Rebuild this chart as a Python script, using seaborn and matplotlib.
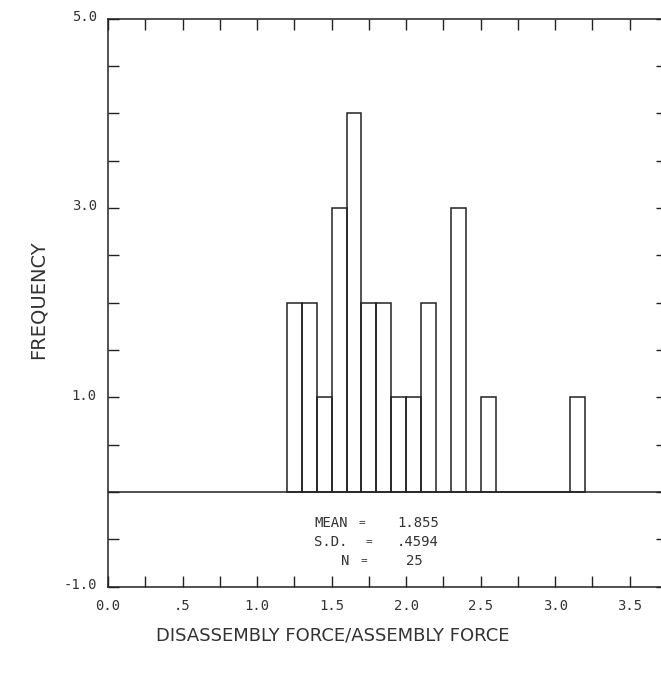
import matplotlib
matplotlib.use("Agg")
import matplotlib.pyplot as plt
import matplotlib.transforms as mtransforms
import numpy as np
import pandas as pd
import seaborn as sns

# ---- data ----
bin_left = [1.2, 1.3, 1.4, 1.5, 1.6, 1.7, 1.8, 1.9, 2.0, 2.1,
            2.2, 2.3, 2.4, 2.5, 2.6, 2.7, 2.8, 2.9, 3.0, 3.1]
counts = [2, 2, 1, 3, 4, 2, 2, 1, 1, 2,
          0, 3, 0, 1, 0, 0, 0, 0, 0, 1]
bin_width = 0.1

x_tick_values = [0.0, 0.5, 1.0, 1.5, 2.0, 2.5, 3.0, 3.5]
x_tick_labels = ["0.0", ".5", "1.0", "1.5", "2.0", "2.5", "3.0", "3.5"]
y_tick_values = [-1.0, 1.0, 3.0, 5.0]
y_tick_labels = ["-1.0", "1.0", "3.0", "5.0"]

stat_names = ["MEAN", "S.D.", "N"]
stat_values = ["1.855", ".4594", "25"]

x_label = "DISASSEMBLY FORCE/ASSEMBLY FORCE"
y_label = "FREQUENCY"

# ---- drawing ----
sns.set_style("white")
plt.rcParams["font.family"] = ["DejaVu Sans Mono", "DejaVu Sans"]

ink = "#222222"
W, H = 661, 679
fig = plt.figure(figsize=(W / 100, H / 100), dpi=100)
# right spine sits just beyond the picture edge (cropped original)
ax = fig.add_axes([108 / W, 1 - 586.7 / H, (667 - 108) / W, (586.7 - 18.5) / H])

edges = list(np.round(np.array(bin_left + [bin_left[-1] + bin_width]), 3))
df = pd.DataFrame({"value": np.array(bin_left) + bin_width / 2,
                   "count": np.array(counts, dtype=float)})
sns.histplot(data=df, x="value", weights="count", bins=edges, fill=False,
             color=ink, linewidth=1.1, ax=ax)

ax.axhline(0, color=ink, linewidth=1.1)

ax.set_xlim(0, 3.75)
ax.set_ylim(-1, 5)

ax.set_xticks(x_tick_values)
ax.set_xticklabels(x_tick_labels)
ax.set_xticks(np.arange(0, 3.76, 0.25), minor=True)
ax.set_yticks(y_tick_values)
ax.set_yticklabels(y_tick_labels)
ax.set_yticks(np.arange(-1, 5.01, 0.5), minor=True)

ax.tick_params(which="both", direction="in", top=True, right=True,
               bottom=True, left=True, length=8, width=1.0, color=ink)
ax.tick_params(axis="both", which="major", labelsize=10, labelcolor="#333333", pad=8)
ax.tick_params(axis="x", which="major", pad=9)

for lab in ax.get_yticklabels():
    lab.set_transform(lab.get_transform() +
                      mtransforms.ScaledTranslation(0, 3 / 100, fig.dpi_scale_trans))

for sp in ax.spines.values():
    sp.set_visible(True)
    sp.set_color(ink)
    sp.set_linewidth(1.1)

ax.set_xlabel("")
ax.set_ylabel("")

# statistics block
line_y = [-0.33, -0.53, -0.73]
name_x = [1.385, 1.385, 1.565]
eq_x = [1.70, 1.75, 1.715]
val_x = [1.94, 1.94, 2.0]
for i in range(len(stat_names)):
    ax.text(name_x[i], line_y[i], stat_names[i], fontsize=10, color="#333333",
            ha="left", va="center")
    ax.text(eq_x[i], line_y[i], "=", fontsize=8, color="#333333",
            ha="center", va="center")
    ax.text(val_x[i], line_y[i], stat_values[i], fontsize=10, color="#333333",
            ha="left", va="center")

fig.text(333 / W, 1 - 636 / H, x_label, fontsize=13, color="#333333",
         family="DejaVu Sans", ha="center", va="center")
fig.text(38 / W, 1 - 300 / H, y_label, fontsize=14, color="#333333",
         family="DejaVu Sans", ha="center", va="center", rotation=90)

fig.savefig("out.png", dpi=100)
